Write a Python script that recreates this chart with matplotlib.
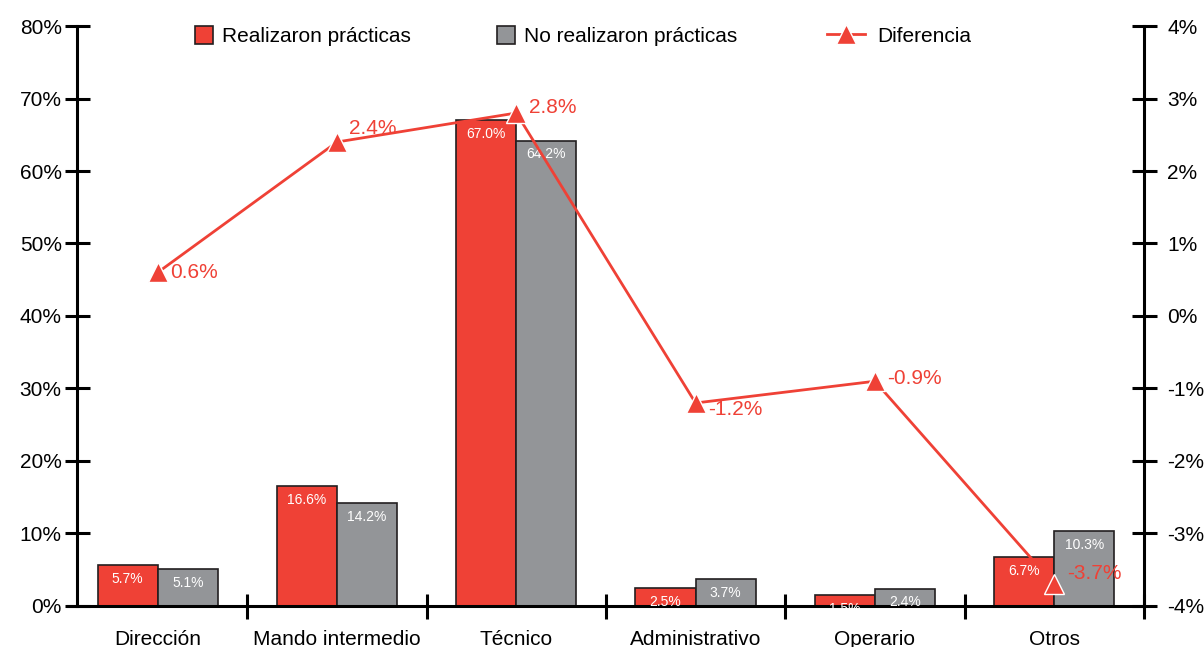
import matplotlib
matplotlib.use("Agg")
import matplotlib.pyplot as plt
import numpy as np

plt.rcParams['font.family'] = ['Liberation Sans', 'DejaVu Sans']

categorias = ['Dirección', 'Mando intermedio', 'Técnico', 'Administrativo', 'Operario', 'Otros']
realizaron = [5.7, 16.6, 67.0, 2.5, 1.5, 6.7]
no_realizaron = [5.1, 14.2, 64.2, 3.7, 2.4, 10.3]
diferencia = [0.6, 2.4, 2.8, -1.2, -0.9, -3.7]

# vertical nudge (points) of the difference labels
label_dy = [0, 10, 4, -5, 2, 8]

rojo = '#ef4136'
gris = '#939598'

fig = plt.figure(figsize=(12.04, 6.47), dpi=100)
ax = fig.add_axes([0.0565, 0.0634, 0.8935, 0.8964])
x = np.arange(len(categorias))
w = 0.335

b1 = ax.bar(x - w/2, realizaron, w, color=rojo, edgecolor='#231f20', linewidth=1.2,
            label='Realizaron prácticas')
b2 = ax.bar(x + w/2, no_realizaron, w, color=gris, edgecolor='#231f20', linewidth=1.2,
            label='No realizaron prácticas')

for bars, vals in [(b1, realizaron), (b2, no_realizaron)]:
    for r, v in zip(bars, vals):
        ax.annotate('%.1f%%' % v, (r.get_x() + r.get_width()/2, v),
                    xytext=(0, -10), textcoords='offset points', ha='center', va='center',
                    color='white', fontsize=10)

ax.set_xlim(-0.5, 5.5)
ax.set_ylim(0, 80)
ax.set_yticks(np.arange(0, 81, 10))
ax.set_yticklabels(['%d%%' % v for v in range(0, 81, 10)])
ax.set_xticks(x)
ax.set_xticklabels(categorias)
ax.set_xticks(np.arange(0.5, 6, 1), minor=True)
ax.tick_params(axis='x', which='major', length=0, pad=17, labelsize=15)
ax.tick_params(axis='x', which='minor', direction='inout', length=18, width=2.2)
ax.tick_params(axis='y', direction='inout', length=18, width=2.2, pad=2, labelsize=15)
ax.spines['top'].set_visible(False)
ax.spines['right'].set_visible(False)
ax.spines['left'].set_position(('data', -0.45))
for s in ['left', 'bottom']:
    ax.spines[s].set_linewidth(2.2)

ax2 = ax.twinx()
l, = ax2.plot(x, diferencia, color=rojo, linewidth=2, marker='^', markersize=15,
              markeredgecolor='white', markeredgewidth=1, label='Diferencia')
for xi, d, dy in zip(x, diferencia, label_dy):
    ax2.annotate('%.1f%%' % d, (xi, d), xytext=(9, dy), textcoords='offset points',
                 ha='left', va='center', color=rojo, fontsize=15)
ax2.set_ylim(-4, 4)
ax2.set_yticks(np.arange(-4, 5, 1))
ax2.set_yticklabels(['%d%%' % v for v in range(-4, 5)])
ax2.tick_params(axis='y', direction='inout', length=18, width=2.2, pad=8, labelsize=15)
for s in ['top', 'left', 'bottom']:
    ax2.spines[s].set_visible(False)
ax2.spines['right'].set_linewidth(2.2)

# legend: one entry per legend so each handle gets its own size
entradas = [(b1, 'Realizaron prácticas', 0.162, 0.87, 0.43),
            (b2, 'No realizaron prácticas', 0.4128, 0.87, 0.43),
            (l, 'Diferencia', 0.6869, 1.83, 0.58)]
for h, txt, xpos, hl, pad in entradas:
    fig.legend(handles=[h], labels=[txt], loc='center left', bbox_to_anchor=(xpos, 0.944),
               frameon=False, fontsize=15, handlelength=hl, handleheight=0.9,
               handletextpad=pad, borderpad=0, borderaxespad=0)

fig.savefig('out.png', dpi=100)
